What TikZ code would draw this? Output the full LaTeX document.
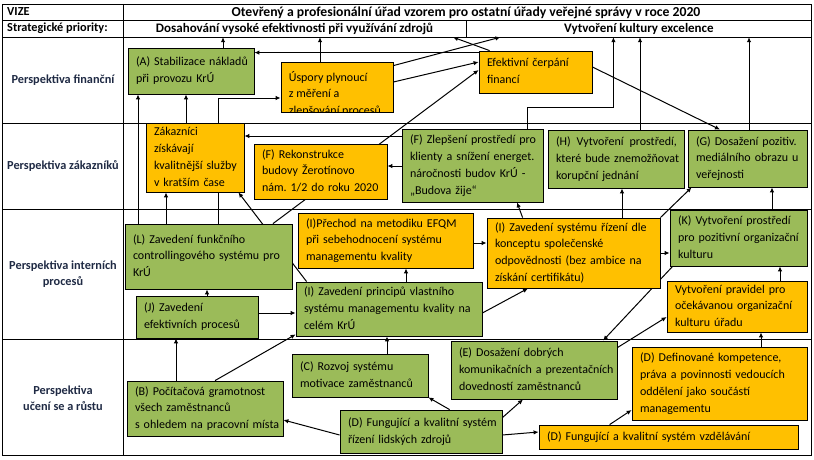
\documentclass[tikz,border=0pt]{standalone}
\usepackage{fontspec}
\setmainfont{Carlito}
\usepackage{xcolor}
\usetikzlibrary{positioning,arrows.meta}
\definecolor{boxgreen}{HTML}{9BBB59}
\definecolor{boxorange}{HTML}{FFC000}
\definecolor{labelblue}{HTML}{1F2A44}
\newcommand{\boxfont}{\fontsize{12}{16.8}\selectfont}
\newcommand{\headfont}{\fontsize{12.3}{16}\selectfont\bfseries}
\newcommand{\rows}[1]{\begin{tabular}{@{}l@{}}#1\end{tabular}}
\pgfdeclarelayer{background}
\pgfsetlayers{background,main}
\frenchspacing

\begin{document}
\begin{tikzpicture}
		[x=1pt,y=-1pt,>={Latex[length=5pt,width=4.5pt]},
		goalbox/.style={rectangle,draw=black,fill=boxgreen,line width=0.8pt,inner xsep=8pt,inner ysep=0pt,align=left,font=\boxfont},
		taskbox/.style={goalbox,fill=boxorange},
		head/.style={font=\headfont,inner sep=0pt},
		rowlabel/.style={font=\headfont,text=labelblue,align=center,inner sep=0pt},
		grid/.style={draw=black,line width=0.8pt},
		link/.style={->,line width=1pt}]
		\useasboundingbox (0,0) rectangle (814,460);

		\node [head, anchor=west] (vize) at (7,12) {VIZE};
		\node [head, font=\fontsize{13.7}{16}\selectfont\bfseries] (vision) at (466,12.5) {Otevřený a profesionální úřad vzorem pro ostatní úřady veřejné správy v roce 2020};
		\node [head, anchor=west] (strat) at (7,28.5) {Strategické priority:};
		\node [head, font=\fontsize{13}{16}\selectfont\bfseries, minimum width=343pt, minimum height=17pt] (prio1) at (294.5,28.5) {Dosahování vysoké efektivnosti při využívání zdrojů};
		\node [head, font=\fontsize{13}{16}\selectfont\bfseries, minimum width=345pt, minimum height=17pt, right=0pt of prio1] (prio2) {Vytvoření kultury excelence};

		\node [rowlabel] (fin) at (63,80) {Perspektiva finanční};
		\node [rowlabel] (cust) at (63,166) {Perspektiva zákazníků};
		\node [rowlabel] (proc) at (63,274) {Perspektiva interních\\procesů};
		\node [rowlabel] (learn) at (63,398) {Perspektiva\\učení se a růstu};

		\node [goalbox, text width=110pt, minimum height=46pt] (a) at (191,71) {\rows{(A) Stabilizace nákladů\\při provozu KrÚ}};
		\node [taskbox, text width=96pt, minimum height=50pt] (usp) at (337,87) {};
		\begin{scope}
			\clip ([shift={(0.6,0.6)}]usp.north west) rectangle ([shift={(-0.6,-0.6)}]usp.south east);
			\node [anchor=north west, font=\boxfont, inner sep=0pt] (usptext) at ([shift={(8,7.5)}]usp.north west) {\rows{Úspory plynoucí\\z měření a\\zlepšování procesů}};
		\end{scope}
		\node [taskbox, text width=97pt, minimum height=42pt] (eff) at (535.5,72) {\rows{Efektivní čerpání\\financí}};

		\node [taskbox, text width=82pt, minimum height=69pt] (zak) at (195,157.5) {\rows{Zákazníci\\získávají\\kvalitnější služby\\v kratším čase}};
		\node [taskbox, text width=117pt, minimum height=55pt] (frek) at (320.5,171.5) {\rows{(F) Rekonstrukce\\budovy Žerotínovo\\nám. 1/2 do roku 2020}};
		\node [goalbox, text width=125pt, minimum height=73pt] (fzl) at (472.5,165.5) {\rows{(F) Zlepšení prostředí pro\\klienty a snížení energet.\\náročnosti budov KrÚ -\\„Budova žije“}};
		\node [goalbox, text width=120pt, minimum height=58pt] (h) at (616,159) {\rows{(H) \,Vytvoření \,prostředí,\\které bude znemožňovat\\korupční jednání}};
		\node [goalbox, text width=103pt, minimum height=57pt] (g) at (747.5,158.5) {\rows{(G) Dosažení pozitiv.\\mediálního obrazu u\\veřejnosti}};

		\node [goalbox, text width=151pt, minimum height=65pt] (l) at (208.5,256.5) {\rows{(L) Zavedení funkčního\\controllingového systému pro\\KrÚ}};
		\node [taskbox, text width=159pt, minimum height=55pt] (iefqm) at (385.5,240.5) {\rows{(I)Přechod na metodiku EFQM\\při sebehodnocení systému\\managementu kvality}};
		\node [taskbox, text width=157pt, minimum height=70pt] (ispol) at (573.5,253) {\rows{(I) Zavedení systému řízení dle\\konceptu společenské\\odpovědnosti (bez ambice na\\získání certifikátu)}};
		\node [goalbox, text width=121pt, minimum height=56pt] (k) at (738.5,238) {\rows{(K) Vytvoření prostředí\\pro pozitivní organizační\\kulturu}};
		\node [taskbox, text width=124pt, minimum height=51pt] (prav) at (737,306.5) {\rows{Vytvoření pravidel pro\\očekávanou organizační\\kulturu úřadu}};
		\node [goalbox, text width=170pt, minimum height=54pt] (ipr) at (389,309) {\rows{(I) Zavedení principů vlastního\\systému managementu kvality na\\celém KrÚ}};
		\node [goalbox, text width=106pt, minimum height=42pt] (j) at (197,317) {\rows{(J) Zavedení\\efektivních procesů}};

		\node [goalbox, text width=140pt, minimum height=55pt] (b) at (205,408.5) {\rows{(B) Počítačová gramotnost\\všech zaměstnanců\\s ohledem na pracovní místa}};
		\node [goalbox, text width=120pt, minimum height=43pt] (c) at (360,375.5) {\rows{(C) Rozvoj systému\\motivace zaměstnanců}};
		\node [goalbox, text width=146pt, minimum height=43pt] (driz) at (421,431.5) {\rows{(D) Fungující a kvalitní systém\\řízení lidských zdrojů}};
		\node [goalbox, text width=150pt, minimum height=58pt] (e) at (534,370) {\rows{(E) Dosažení dobrých\\komunikačních a prezentačních\\dovedností zaměstnanců}};
		\node [taskbox, text width=159pt, minimum height=73pt] (ddef) at (719.5,383.5) {\rows{(D) Definované kompetence,\\práva a povinnosti vedoucích\\oddělení jako součástí\\managementu}};
		\node [taskbox, text width=243pt, minimum height=24pt] (dvzd) at (668.5,437) {\rows{(D) Fungující a kvalitní systém vzdělávání}};

		\begin{pgfonlayer}{background}
			\draw [grid] (2,4) rectangle (811,455);
			\foreach \y in {20,37,123,209,339}
				\draw [grid] (2,\y) -- (811,\y);
			\draw [grid] (123,4) -- (123,455);
			\draw [grid] (466,20) -- (466,37);

			\draw [link] ([xshift=32]a.north) -- ([xshift=32]prio1.south -| a.north);
			\draw [link] ([xshift=-17]usp.north) -- ([xshift=-17]prio1.south -| usp.north);
			\draw [link] ([yshift=-4]usp.north east) -- ([xshift=-138.5]prio2.south);
			\draw [link] ([xshift=11]eff.north west) -- ([xshift=158.5]prio1.south);
			\draw [link] ([yshift=-2]eff.north west) -- ([yshift=-2]eff.north west -| a.east);
			\draw [link] ([yshift=5]usp.east) -- ([yshift=10]eff.west);
			\draw [link] ([xshift=64.5]l.north) -- ([yshift=2]eff.west);
			\draw [link] ([yshift=5]eff.east) -- ([xshift=-27.5]g.north);

			\draw [link] ([xshift=-9]zak.north) -- ([xshift=-9]a.south -| zak.north);
			\draw [link] ([xshift=-70.5]l.north) -- ([xshift=-70.5]a.south -| l.north);
			\draw [link] ([xshift=-42.5]l.north) -- ([xshift=-42.5]zak.south -| l.north);
			\draw [link] ([xshift=9.5]l.north) |- ([yshift=-11]usp.west);
			\draw [link] ([yshift=29.5]fzl.west) -- ([yshift=29.5]fzl.west -| zak.east);
			\draw [link] ([yshift=-0.5]fzl.west) -- ([yshift=-0.5]fzl.west -| frek.east);
			\draw [link] ([xshift=54.5]fzl.north) -- ++(0,-21) -| ([xshift=-25.5]prio2.south);
			\draw [link] ([xshift=24]h.north) -- ([xshift=24]prio2.south -| h.north);
			\draw [link] ([xshift=1.5]g.north) -- ([xshift=1.5]prio2.south -| g.north);
			\draw [link] ([xshift=11]ipr.north west) -- ([xshift=-6]zak.south east);

			\draw [link] ([yshift=-2.5]iefqm.east) -- ([yshift=-2.5]iefqm.east -| ispol.west);
			\draw [link] ([xshift=17]ipr.north) -- ([xshift=17]iefqm.south -| ipr.north);
			\draw [link] ([xshift=36]ispol.north west) -- ([xshift=44.5]fzl.south);
			\draw [link] ([xshift=48.5]ispol.north) -- ([xshift=48.5]h.south -| ispol.north);
			\draw [link] (ispol.north east) -- ([xshift=4]g.south west);
			\draw [link] (ispol.east) -- (ispol.east -| k.west);
			\draw [link] ([xshift=33.5]k.north) -- ([xshift=33.5]g.south -| k.north);
			\draw [link] ([xshift=43]prav.north) -- ([xshift=43]k.south -| prav.north);
			\draw [link] ([yshift=-4]ipr.east) -- ([xshift=-45.5]ispol.south);
			\draw [link] ([yshift=4]j.east) -- ([yshift=4]j.east -| ipr.west);
			\draw [link] ([xshift=10]j.north) -- ([xshift=10]l.south -| j.north);
			\draw [link] ([xshift=3]k.south west) -- ([xshift=69]e.north);
			\draw [link] ([yshift=-7]e.north east) -- ([yshift=-10.5]prav.west);

			\draw [link] ([xshift=-29]b.north) -- ([xshift=-29]j.south -| b.north);
			\draw [link] ([xshift=10]b.north) -- ([yshift=2]ipr.south west);
			\draw [link] ([xshift=27]c.north) -- ([xshift=27]ipr.south -| c.north);
			\draw [link] ([xshift=110]driz.north west) -- (c.south east);
			\draw [link] ([yshift=-3.5]driz.west) -- ([yshift=-11.5]b.east);
			\draw [link] ([yshift=-8]driz.north east) -- ([xshift=-11]e.south);
			\draw [link] ([yshift=-3.5]driz.east) -- ([yshift=5]dvzd.west);
			\draw [link] ([xshift=71]dvzd.north west) -- ([yshift=-26.5]ddef.west);
			\draw [link] ([xshift=41.5]ddef.north) -- ([xshift=41.5]prav.south -| ddef.north);
		\end{pgfonlayer}

	\end{tikzpicture}
\end{document}
